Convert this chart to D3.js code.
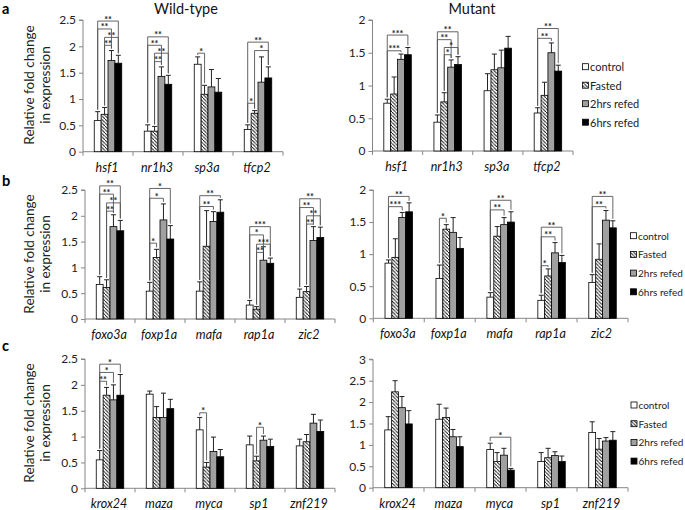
<!DOCTYPE html>
<html><head><meta charset="utf-8">
<script src="https://cdn.jsdelivr.net/npm/d3@7"></script>
<style>body{margin:0;background:#fff}svg{display:block;font-family:Lato,"Open Sans",sans-serif}</style>
</head><body><svg id="c" width="685" height="510"></svg>
<script>
// ---------- data ----------
const groups = ["control", "Fasted", "2hrs refed", "6hrs refed"];
const genesA = ["hsf1", "nr1h3", "sp3a", "tfcp2"];
const genesB = ["foxo3a", "foxp1a", "mafa", "rap1a", "zic2"];
const genesC = ["krox24", "maza", "myca", "sp1", "znf219"];

const ticks25 = [0, 0.5, 1, 1.5, 2, 2.5];
const ticks20 = [0, 0.5, 1, 1.5, 2];
const ticks30 = [0, 0.5, 1, 1.5, 2, 2.5, 3];
const tickLabels = ["0", "0.5", "1", "1.5", "2", "2.5", "3"];

const titles = ["Wild-type", "Mutant"];
const panelLetters = ["a", "b", "c"];
const yTitle = ["Relative fold change", "in expression"];

// means per gene: [control, Fasted, 2hrs refed, 6hrs refed]
const meanA_WT = [[0.59,0.71,1.73,1.68],[0.39,0.39,1.43,1.28],[1.66,1.09,1.23,1.13],[0.42,0.73,1.32,1.40]];
const errA_WT  = [[0.17,0.13,0.19,0.15],[0.12,0.09,0.18,0.17],[0.14,0.17,0.33,0.26],[0.09,0.05,0.48,0.21]];
const meanA_MT = [[0.73,0.87,1.40,1.47],[0.44,0.75,1.28,1.32],[0.92,1.24,1.27,1.57],[0.58,0.85,1.50,1.22]];
const errA_MT  = [[0.06,0.26,0.08,0.11],[0.11,0.14,0.11,0.12],[0.26,0.24,0.27,0.18],[0.08,0.20,0.15,0.09]];
const meanB_WT = [[0.67,0.61,1.79,1.71],[0.54,1.19,1.92,1.55],[0.54,1.41,1.89,2.07],[0.27,0.19,1.14,1.08],[0.42,0.53,1.52,1.58]];
const errB_WT  = [[0.15,0.15,0.23,0.20],[0.17,0.16,0.31,0.26],[0.18,0.69,0.19,0.24],[0.09,0.05,0.26,0.10],[0.16,0.10,0.27,0.20]];
const meanB_MT = [[0.86,0.95,1.57,1.66],[0.62,1.39,1.34,1.09],[0.33,1.28,1.46,1.50],[0.28,0.66,1.02,0.87],[0.56,0.92,1.53,1.41]];
const errB_MT  = [[0.05,0.29,0.08,0.14],[0.21,0.07,0.23,0.17],[0.07,0.15,0.11,0.16],[0.08,0.11,0.16,0.11],[0.12,0.24,0.15,0.11]];
const meanC_WT = [[0.55,1.80,1.71,1.80],[1.82,1.37,1.37,1.54],[1.13,0.41,0.71,0.61],[0.84,0.53,0.93,0.81],[0.82,0.90,1.26,1.10]];
const errC_WT  = [[0.18,0.15,0.29,0.40],[0.06,0.21,0.47,0.18],[0.24,0.09,0.28,0.14],[0.17,0.09,0.08,0.14],[0.13,0.14,0.17,0.22]];
const meanC_MT = [[1.35,2.24,1.87,1.49],[1.60,1.64,1.19,0.96],[0.89,0.61,0.76,0.41],[0.61,0.70,0.75,0.61],[1.29,0.90,1.09,1.11]];
const errC_MT  = [[0.31,0.26,0.26,0.31],[0.35,0.22,0.17,0.23],[0.15,0.21,0.16,0.04],[0.21,0.22,0.09,0.13],[0.25,0.25,0.08,0.20]];

// significance brackets: [gene index, from group, to group, bracket level, label]
const sigA_WT = [[0,0,3,2.48,"**"],[0,0,2,2.33,"**"],[0,1,3,2.17,"**"],[0,1,2,2.02,"**"],
                 [1,0,3,2.18,"**"],[1,0,2,2.02,"**"],[1,1,3,1.87,"**"],[1,1,2,1.71,"**"],
                 [2,0,1,1.87,"*"],
                 [3,0,3,2.08,"**"],[3,1,3,1.92,"*"],[3,0,1,0.92,"*"]];
const sigA_MT = [[0,0,3,1.77,"***"],[0,0,2,1.53,"***"],
                 [1,0,3,1.82,"**"],[1,0,2,1.70,"**"],[1,1,3,1.58,"*"],[1,1,2,1.47,"*"],
                 [3,0,3,1.87,"**"],[3,0,2,1.72,"**"]];
const sigB_WT = [[0,0,3,2.58,"**"],[0,0,2,2.42,"**"],[0,1,3,2.25,"**"],[0,1,2,2.09,"**"],
                 [1,0,3,2.53,"*"],[1,0,2,2.34,"*"],[1,0,1,1.47,"*"],
                 [2,0,3,2.39,"**"],[2,0,2,2.18,"**"],
                 [3,0,3,1.79,"***"],[3,0,2,1.63,"*"],[3,1,3,1.45,"***"],[3,1,2,1.29,"**"],
                 [4,0,3,2.33,"**"],[4,0,2,2.16,"**"],[4,1,3,2.00,"**"],[4,1,2,1.84,"**"]];
const sigB_MT = [[0,0,3,1.90,"**"],[0,0,2,1.74,"***"],
                 [1,0,1,1.56,"*"],
                 [2,0,3,1.84,"**"],[2,0,2,1.69,"**"],
                 [3,0,3,1.42,"**"],[3,0,2,1.27,"**"],[3,0,1,0.82,"*"],
                 [4,0,3,1.90,"**"],[4,0,2,1.74,"**"]];
const sigC_WT = [[0,0,3,2.40,"*"],[0,0,2,2.24,"*"],[0,0,1,2.07,"**"],
                 [2,0,1,1.46,"*"],
                 [3,1,2,1.18,"*"]];
const sigC_MT = [[2,0,3,1.18,"*"]];

// ---------- drawing ----------
const svg = d3.select("#c");
const defs = svg.append("defs");
const pat = defs.append("pattern").attr("id","hatch").attr("patternUnits","userSpaceOnUse")
  .attr("width",3.5).attr("height",3.5);
pat.append("rect").attr("width",3.5).attr("height",3.5).attr("fill","#fff");
pat.append("path").attr("d","M-1,-1 L1,1 M0,0 L3.5,3.5 M2.5,2.5 L4.5,4.5")
  .attr("stroke","#000").attr("stroke-width",0.9);

const fills = ["#ffffff","url(#hatch)","#a0a0a0","#000000"];
const axisCol = "#868686";

const panels = [
  {genes:genesA, mean:meanA_WT, err:errA_WT, sig:sigA_WT, ticks:ticks25, max:2.5, xr:[83,283], yr:[151.7,20]},
  {genes:genesA, mean:meanA_MT, err:errA_MT, sig:sigA_MT, ticks:ticks20, max:2,   xr:[372.5,573], yr:[151,20], legend:[582.5,66.7,18.5,11]},
  {genes:genesB, mean:meanB_WT, err:errB_WT, sig:sigB_WT, ticks:ticks25, max:2.5, xr:[85,335], yr:[319,190]},
  {genes:genesB, mean:meanB_MT, err:errB_MT, sig:sigB_MT, ticks:ticks20, max:2,   xr:[373.3,628], yr:[318.3,190], legend:[630.5,235.7,18.7,10]},
  {genes:genesC, mean:meanC_WT, err:errC_WT, sig:sigC_WT, ticks:ticks25, max:2.5, xr:[85,335], yr:[488.3,359]},
  {genes:genesC, mean:meanC_MT, err:errC_MT, sig:sigC_MT, ticks:ticks30, max:3,   xr:[373,628], yr:[487.7,359.3], legend:[631,405,18.7,10]}
];

panels.forEach(p => {
  const g = svg.append("g");
  const x0 = d3.scaleBand().domain(p.genes).range(p.xr);
  const groupW = 27.5;
  const x1 = d3.scaleBand().domain(groups).range([0, groupW]);
  const y = d3.scaleLinear().domain([0, p.max]).range(p.yr);
  const off = (x0.bandwidth() - groupW) / 2;
  const bx = (gi, k) => x0(p.genes[gi]) + off + x1(groups[k]);
  const bc = (gi, k) => bx(gi, k) + x1.bandwidth() / 2;

  // y axis
  const ya = d3.axisLeft(y).tickValues(p.ticks).tickSize(4).tickPadding(3)
    .tickFormat(v => tickLabels[p.ticks.indexOf(v)]);
  const yg = g.append("g").attr("transform", `translate(${p.xr[0]},0)`).call(ya);
  yg.select(".domain").attr("stroke", axisCol).attr("d", `M-4,${p.yr[1]}H0V${p.yr[0]}`);
  yg.selectAll(".tick line").attr("stroke", axisCol);
  yg.selectAll(".tick text").attr("font-size", 12).attr("fill", "#222").attr("font-family","Lato");

  // x axis
  const xg = g.append("g").attr("transform", `translate(0,${p.yr[0]})`);
  xg.append("path").attr("d", `M${p.xr[0]},0H${p.xr[1]}`).attr("stroke", axisCol).attr("fill","none");
  const bounds = p.genes.map(d => x0(d)).concat([p.xr[1]]);
  xg.selectAll("line.tk").data(bounds).join("line").attr("class","tk")
    .attr("x1", d => d).attr("x2", d => d).attr("y1", 0).attr("y2", 4).attr("stroke", axisCol);
  xg.selectAll("text").data(p.genes).join("text")
    .attr("x", d => x0(d) + x0.bandwidth()/2 - 1).attr("y", 20)
    .attr("text-anchor","middle").attr("font-size",12.5).attr("font-style","italic").attr("fill","#111")
    .text(d => d);

  // bars
  p.genes.forEach((gene, gi) => {
    groups.forEach((grp, k) => {
      const m = p.mean[gi][k], e = p.err[gi][k];
      const cx = bc(gi, k);
      g.append("path").attr("d", `M${cx},${y(m)}V${y(m+e)}M${cx-2.5},${y(m+e)}H${cx+2.5}`)
        .attr("stroke","#222").attr("stroke-width",1).attr("fill","none");
      g.append("rect").attr("x", bx(gi,k)).attr("y", y(m))
        .attr("width", x1.bandwidth()).attr("height", y(0) - y(m))
        .attr("fill", fills[k]).attr("stroke","#000").attr("stroke-width",0.8);
    });
  });

  // significance brackets
  p.sig.forEach(([gi, a, b, lev, lab]) => {
    const xa = bc(gi, a), xb = bc(gi, b), yl = y(lev);
    const ya2 = y(p.mean[gi][a] + p.err[gi][a]) - 2;
    const yb2 = y(p.mean[gi][b] + p.err[gi][b]) - 2;
    g.append("path").attr("d", `M${xa},${ya2}V${yl}H${xb}V${yb2}`)
      .attr("stroke","#555").attr("stroke-width",0.9).attr("fill","none");
    g.append("text").attr("x", (xa+xb)/2).attr("y", yl + 1.5).attr("text-anchor","middle")
      .attr("font-size", 9).attr("font-weight","bold").attr("fill","#222").text(lab);
  });

  // legend
  if (p.legend) {
    const [lx, ly, dy, fs] = p.legend;
    groups.forEach((grp, k) => {
      g.append("rect").attr("x", lx).attr("y", ly + k*dy - 3).attr("width",6).attr("height",6)
        .attr("fill", fills[k]).attr("stroke","#000").attr("stroke-width",0.8);
      g.append("text").attr("x", lx + 7.5).attr("y", ly + k*dy).attr("dominant-baseline","central")
        .attr("font-size",fs).attr("fill","#222").text(grp);
    });
  }
});

// titles
svg.append("text").attr("x",186).attr("y",13.5).attr("text-anchor","middle").attr("font-size",14.5).attr("fill","#111").text(titles[0]);
svg.append("text").attr("x",472).attr("y",13.5).attr("text-anchor","middle").attr("font-size",14.5).attr("fill","#111").text(titles[1]);

// panel letters
[13.5, 186, 351].forEach((yy, i) => {
  svg.append("text").attr("x",2).attr("y",yy).attr("font-size",14.5).attr("font-weight","bold").attr("fill","#000").text(panelLetters[i]);
});

// y titles
[85, 254, 423].forEach(cy => {
  yTitle.forEach((t, j) => {
    svg.append("text").attr("transform", `translate(${29 + j*16},${cy}) rotate(-90)`)
      .attr("text-anchor","middle").attr("dominant-baseline","central")
      .attr("font-size",13.5).attr("fill","#222").text(t);
  });
});
</script></body></html>
